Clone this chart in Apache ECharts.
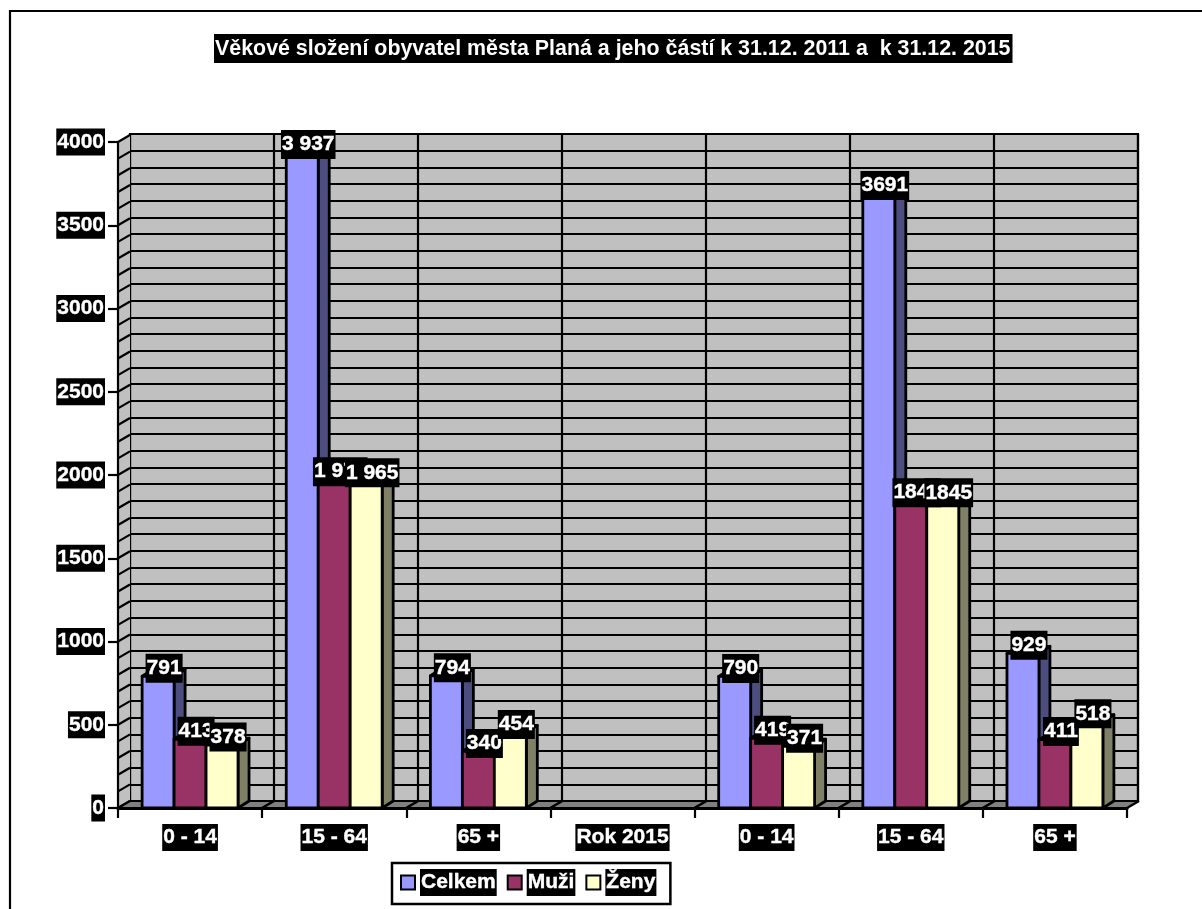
<!DOCTYPE html>
<html><head><meta charset="utf-8">
<style>html,body{margin:0;padding:0;background:#fff;overflow:hidden}#c{width:1202px;height:909px}</style>
<script src="https://cdn.jsdelivr.net/npm/echarts@6/dist/echarts.min.js"></script>
</head><body><div id="c"></div>
<script>
const titleText = 'Věkové složení obyvatel města Planá a jeho částí k 31.12. 2011 a  k 31.12. 2015';
const categories = ['0 - 14','15 - 64','65 +','Rok 2015','0 - 14','15 - 64','65 +'];
const celkem = [791,3937,794,null,790,3691,929];
const muzi   = [413,1972,340,null,419,1846,411];
const zeny   = [378,1965,454,null,371,1845,518];
const celkemLabels = ['791','3 937','794','','790','3691','929'];
const muziLabels   = ['413','1 972','340','','419','1846','411'];
const zenyLabels   = ['378','1 965','454','','371','1845','518'];
const wallSteps = [0,100,200,300,400,500,600,700,800,900,1000,1100,1200,1300,1400,1500,1600,1700,1800,1900,2000,2100,2200,2300,2400,2500,2600,2700,2800,2900,3000,3100,3200,3300,3400,3500,3600,3700,3800,3900,4000];

const FONT = 'Liberation Sans';
const DX = 12, DY = 7, BAR_DX = 11, BAR_DY = 7;
const GRID_W = 2.2;
const lineS = {stroke:'#000', lineWidth:GRID_W};
const barLine = {stroke:'#000', lineWidth:2.8, lineJoin:'round'};

function barItem(serIdx, front, shade){
  return function(params, api){
    const idx = api.value(0), v = api.value(1);
    const top = api.coord([idx, v]), base = api.coord([idx, 0]);
    const w = api.size([1,0])[0] * 0.2218;
    const x0 = top[0] + (serIdx - 1.5) * w, x1 = x0 + w;
    return {type:'group', children:[
      {type:'polygon', shape:{points:[[x1,top[1]],[x1+BAR_DX,top[1]-BAR_DY],[x1+BAR_DX,base[1]-BAR_DY],[x1,base[1]]]}, style:{fill:shade, ...barLine}},
      {type:'polygon', shape:{points:[[x0,top[1]],[x0+BAR_DX,top[1]-BAR_DY],[x1+BAR_DX,top[1]-BAR_DY],[x1,top[1]]]}, style:{fill:shade, ...barLine}},
      {type:'rect', shape:{x:x0, y:top[1], width:w, height:base[1]-top[1]}, style:{fill:front, ...barLine}}
    ]};
  };
}
function labelItem(serIdx, labels){
  return function(params, api){
    const idx = api.value(0), v = api.value(1);
    const top = api.coord([idx, v]);
    const w = api.size([1,0])[0] * 0.2218;
    return {type:'text', style:{text:labels[idx], x:top[0]+(serIdx-1)*w+6, y:top[1]-8, align:'center', verticalAlign:'middle',
      fill:'#fff', backgroundColor:'#000', padding:[4,1,4,1], fontFamily:FONT, fontWeight:'bold', fontSize:21,
      stroke:'#fff', lineWidth:0.4}};
  };
}
const points = vals => vals.map((v,i)=>[i,v]).filter(d=>d[1]!==null);
function barSeries(name, vals, serIdx, front, shade){
  return {name, type:'custom', xAxisIndex:0, yAxisIndex:0, z:10+serIdx, encode:{x:0,y:1},
    data: points(vals),
    itemStyle:{color:front, borderColor:'#000', borderWidth:2},
    renderItem: barItem(serIdx, front, shade)};
}
function labelSeries(vals, labels, serIdx){
  return {type:'custom', xAxisIndex:0, yAxisIndex:0, z:20+serIdx, encode:{x:0,y:1}, silent:true,
    data: points(vals), renderItem: labelItem(serIdx, labels)};
}
function wallItem(params, api){
  const v = api.value(1);
  const p = api.coord([0, v]), band = api.size([1,0])[0];
  const x = p[0] - band/2;
  const kids = [];
  if (v < 4000) {
    const q = api.coord([0, v + 100]);
    kids.push({type:'polygon', shape:{points:[[x,p[1]],[x+DX,p[1]-DY],[x+DX,q[1]-DY],[x,q[1]]]}, style:{fill:'#c0c0c0', stroke:null}});
  }
  kids.push({type:'line', shape:{x1:x,y1:p[1],x2:x+DX,y2:p[1]-DY}, style:lineS});
  return {type:'group', children:kids};
}
function floorItem(params, api){
  const i = api.value(0);
  const p = api.coord([i, 0]), band = api.size([1,0])[0];
  const a = p[0]-band/2, b = p[0]+band/2, y = p[1];
  return {type:'group', children:[
    {type:'polygon', shape:{points:[[a,y],[a+DX,y-DY],[b+DX,y-DY],[b,y]]}, style:{fill:'#808080', stroke:null}},
    {type:'line', shape:{x1:a,y1:y,x2:a+DX,y2:y-DY}, style:lineS},
    {type:'line', shape:{x1:b,y1:y,x2:b+DX,y2:y-DY}, style:lineS},
    {type:'line', shape:{x1:a+DX,y1:y-DY,x2:b+DX,y2:y-DY}, style:lineS}
  ]};
}
const boxLabel = {color:'#fff', backgroundColor:'#000', fontFamily:FONT, fontWeight:'bold', fontSize:21,
  textBorderColor:'#fff', textBorderWidth:0.4};
const chart = echarts.init(document.getElementById('c'), null, {renderer:'canvas'});
chart.setOption({
  animation:false,
  backgroundColor:'#fff',
  title:{text:titleText, left:214, top:36, padding:[5,2,3,1], backgroundColor:'#000',
    textStyle:{color:'#fff', fontFamily:FONT, fontWeight:'bold', fontSize:21.4, lineHeight:17}},
  legend:{data:['Celkem','Muži','Ženy'], left:392, top:863, orient:'horizontal',
    padding:[6,14,8,8], itemGap:10, itemWidth:14, itemHeight:14, icon:'rect',
    borderColor:'#000', borderWidth:2.5, backgroundColor:'#fff', selectedMode:false,
    textStyle:{...boxLabel, padding:[3,1,3,1]}},
  graphic:[{type:'polyline', silent:true, z:-1, shape:{points:[[10,920],[10,11],[1210,11]]}, style:{fill:null, stroke:'#000', lineWidth:2.2}}],
  grid:[
    {left:118, top:142, width:1009, height:666},
    {left:130, top:134, width:1008, height:667, show:true, backgroundColor:'#c0c0c0', borderColor:'#000', borderWidth:GRID_W, z:0}
  ],
  xAxis:[
    {gridIndex:0, type:'category', data:categories, z:6, boundaryGap:true,
     axisLine:{lineStyle:{color:'#000',width:3}}, axisTick:{show:true,alignWithLabel:false,interval:0,length:10,lineStyle:{color:'#000',width:GRID_W}},
     axisLabel:{...boxLabel, interval:0, margin:16, padding:[3,1,3,1]}, splitLine:{show:false}},
    {gridIndex:1, type:'category', data:categories, z:1, boundaryGap:true,
     axisLine:{show:false}, axisTick:{show:false}, axisLabel:{show:false},
     splitLine:{show:true, interval:0, lineStyle:{color:'#000',width:GRID_W}}}
  ],
  yAxis:[
    {gridIndex:0, type:'value', min:0, max:4000, interval:500, z:6,
     axisLine:{show:true,lineStyle:{color:'#000',width:GRID_W}}, axisTick:{show:true,length:10,lineStyle:{color:'#000',width:GRID_W}},
     axisLabel:{...boxLabel, margin:13, padding:[3,1,3,1], formatter:v=>String(v)}, splitLine:{show:false}},
    {gridIndex:1, type:'value', min:0, max:4000, interval:100, z:1,
     axisLine:{show:false}, axisTick:{show:false}, axisLabel:{show:false},
     splitLine:{show:true, lineStyle:{color:'#000',width:GRID_W}}}
  ],
  series:[
    {type:'custom', xAxisIndex:0, yAxisIndex:0, z:3, encode:{x:0,y:1}, silent:true, data:wallSteps.map(v=>[0,v]), renderItem:wallItem},
    {type:'custom', xAxisIndex:0, yAxisIndex:0, z:4, encode:{x:0,y:1}, silent:true, data:categories.map((c,i)=>[i,0]), renderItem:floorItem},
    barSeries('Celkem', celkem, 0, '#9999ff', '#4d4d80'),
    barSeries('Muži', muzi, 1, '#993366', '#4d1a33'),
    barSeries('Ženy', zeny, 2, '#ffffcc', '#808066'),
    labelSeries(celkem, celkemLabels, 0),
    labelSeries(muzi, muziLabels, 1),
    labelSeries(zeny, zenyLabels, 2)
  ]
});
</script></body></html>
